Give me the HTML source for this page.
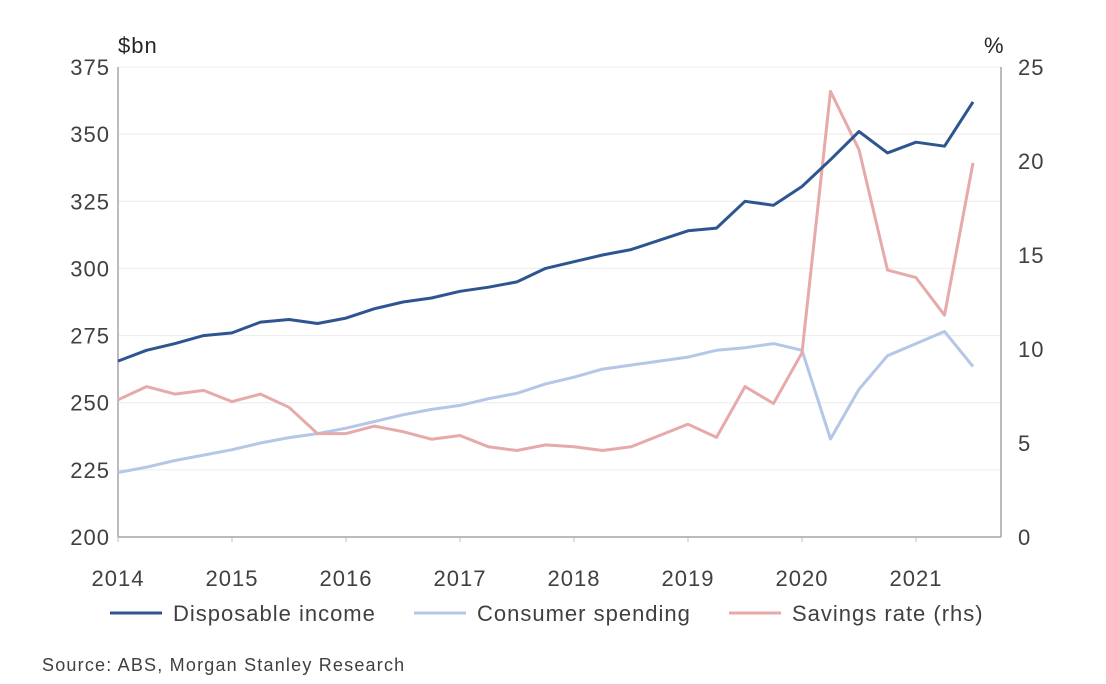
<!DOCTYPE html>
<html><head><meta charset="utf-8"><style>
html,body{margin:0;padding:0;background:#fff;}
svg{display:block;font-family:"Liberation Sans",sans-serif;}
</style></head><body>
<svg id="chart" width="1106" height="684" viewBox="0 0 1106 684"></svg>
<script>
const years = ["2014","2015","2016","2017","2018","2019","2020","2021"];
const leftTicks = [200,225,250,275,300,325,350,375];
const rightTicks = [0,5,10,15,20,25];
const disposableIncome = [265.5,269.5,272,275,276,280,281,279.5,281.5,285,287.5,289,291.5,293,295,300,302.5,305,307,310.5,314,315,325,323.5,330.5,340.5,351,343,347,345.5,362];
const consumerSpending = [224,226,228.5,230.5,232.5,235,237,238.5,240.5,243,245.5,247.5,249,251.5,253.5,257,259.5,262.5,264,265.5,267,269.5,270.5,272,269.5,236.5,255,267.5,272,276.5,263.5];
const savingsRate = [7.3,8.0,7.6,7.8,7.2,7.6,6.9,5.5,5.5,5.9,5.6,5.2,5.4,4.8,4.6,4.9,4.8,4.6,4.8,5.4,6.0,5.3,8.0,7.1,9.8,23.7,20.6,14.2,13.8,11.8,19.9];

const NS="http://www.w3.org/2000/svg";
const svg=document.getElementById('chart');
const X0=118, X1=1001, YT=67, YB=537;
const xq = i => X0 + i*28.5;
const xy = k => X0 + k*114;
const yL = v => YB - (v-200)/175*(YB-YT);
const yR = v => YB - v/25*(YB-YT);
function mk(tag,attrs,parent){const e=document.createElementNS(NS,tag);for(const k in attrs)e.setAttribute(k,attrs[k]);(parent||svg).appendChild(e);return e;}
function txt(s,attrs){const e=mk('text',attrs);e.textContent=s;return e;}
const FS=22, LS=1;

leftTicks.forEach(v=>{
  if(v>200){const g=mk('line',{x1:X0,x2:X1,y1:yL(v),y2:yL(v),stroke:'#ececec','stroke-width':1});
  
  }
  const t=txt(String(v),{x:110,y:yL(v)+8,'text-anchor':'end','font-size':FS,'letter-spacing':LS,fill:'#404040'});
  
  
});
rightTicks.forEach(v=>{
  const t=txt(String(v),{x:1018,y:yR(v)+8,'font-size':FS,'letter-spacing':LS,fill:'#404040'});
  
  
});
years.forEach((s,k)=>{
  const t=txt(s,{x:xy(k),y:586,'text-anchor':'middle','font-size':FS,'letter-spacing':LS,fill:'#404040'});
  
  
  const tk=mk('line',{x1:xy(k),x2:xy(k),y1:YB,y2:YB+5,stroke:'#bfbfbf'});
  
  
});
const ax1=mk('line',{x1:X0,x2:X0,y1:YT,y2:YB,stroke:'#a6a6a6','stroke-width':1.5});


const ax2=mk('line',{x1:X1,x2:X1,y1:YT,y2:YB,stroke:'#a6a6a6','stroke-width':1.5});


const ax3=mk('line',{x1:X0,x2:X1,y1:YB,y2:YB,stroke:'#a6a6a6','stroke-width':1.5});


const u1=txt('$bn',{x:118,y:53,'font-size':FS,'letter-spacing':LS,fill:'#262626'});


const u2=txt('%',{x:984,y:53,'font-size':FS,fill:'#262626'});



function series(arr,yf,color,name){
  const d=arr.map((v,i)=>(i?'L':'M')+xq(i).toFixed(1)+','+yf(v).toFixed(1)).join('');
  const p=mk('path',{d:d,fill:'none',stroke:color,'stroke-width':3,'stroke-linejoin':'round'});
  
  
}
series(consumerSpending,yL,'#b4c7e7','consumer-spending-line');
series(savingsRate,yR,'#e6aaaa','savings-rate-line');
series(disposableIncome,yL,'#2f5590','disposable-income-line');

const leg=[['Disposable income','#2f5590',110],['Consumer spending','#b4c7e7',414],['Savings rate (rhs)','#e6aaaa',729]];
leg.forEach(([s,c,x])=>{
  const l=mk('line',{x1:x,x2:x+52,y1:613,y2:613,stroke:c,'stroke-width':3});
  
  
  const t=txt(s,{x:x+63,y:621,'font-size':FS,'letter-spacing':LS,fill:'#404040'});
  
  
});
const src=txt('Source: ABS, Morgan Stanley Research',{x:42,y:671,'font-size':18,'letter-spacing':1.2,fill:'#404040'});


</script>
</body></html>
